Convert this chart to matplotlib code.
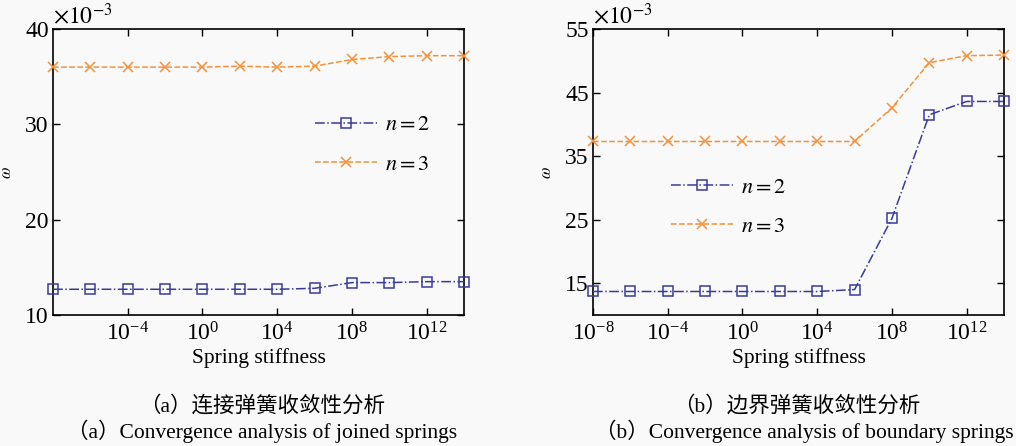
import numpy as np
import matplotlib
matplotlib.use("Agg")
import matplotlib.pyplot as plt

plt.rcParams['font.family'] = ['Liberation Serif', 'Noto Sans CJK SC']
plt.rcParams['mathtext.fontset'] = 'stix'

# stiffness values 10^-8 ... 10^14
stiffness = 10.0 ** np.arange(-8, 15, 2)

# (a) joined springs
joined_n2 = [12.7, 12.7, 12.7, 12.7, 12.7, 12.7, 12.7, 12.8, 13.4, 13.4, 13.5, 13.5]
joined_n3 = [36.0, 36.0, 36.0, 36.0, 36.0, 36.1, 36.0, 36.1, 36.8, 37.1, 37.2, 37.2]

# (b) boundary springs
boundary_n2 = [13.7, 13.7, 13.7, 13.7, 13.7, 13.7, 13.7, 14.0, 25.2, 41.5, 43.6, 43.6]
boundary_n3 = [37.3, 37.3, 37.3, 37.3, 37.3, 37.3, 37.3, 37.3, 42.6, 49.7, 50.8, 50.9]

blue = '#3a3a9c'
orange = '#f5913a'
bg = '#f9f9f9'

fig = plt.figure(figsize=(10.16, 4.46), dpi=100, facecolor=bg)
ax1 = fig.add_axes([0.0522, 0.2937, 0.4045, 0.6413], facecolor=bg)
ax2 = fig.add_axes([0.5837, 0.2937, 0.4045, 0.6413], facecolor=bg)


def draw(ax, n2, n3, ylim, yticks, xticks, leg_anchor):
    ax.plot(stiffness, n2, linestyle='-.', color=blue, lw=1.1, marker='s',
            markersize=7, markerfacecolor='none', markeredgecolor=blue,
            markeredgewidth=1.1, label=r'$n=2$', clip_on=False, zorder=3)
    ax.plot(stiffness, n3, linestyle='--', color=orange, lw=1.1, marker='x',
            markersize=7, markeredgewidth=1.1, label=r'$n=3$',
            clip_on=False, zorder=3)
    ax.set_xscale('log')
    ax.set_xlim(1e-8, 1e14)
    ax.set_ylim(*ylim)
    ax.set_yticks(yticks)
    ax.set_xticks(xticks)
    ax.minorticks_off()
    ax.tick_params(direction='in', top=True, right=True, length=5, width=1,
                   labelsize=17, pad=3)
    ax.tick_params(axis='x', pad=5)
    for s in ax.spines.values():
        s.set_linewidth(1.2)
    ax.set_xlabel('Spring stiffness', fontsize=15.5, labelpad=2)
    ax.set_ylabel(r'$\omega$', fontsize=12)
    ax.yaxis.set_label_coords(-0.092, 0.497)
    ax.text(0.0, 1.0, r'$\times10^{-3}$', transform=ax.transAxes,
            fontsize=17, ha='left', va='bottom')
    ax.legend(loc='upper left', bbox_to_anchor=leg_anchor, frameon=False,
              fontsize=16, handlelength=2.8, labelspacing=0.85,
              borderaxespad=0, borderpad=0, handletextpad=0.35)


draw(ax1, joined_n2, joined_n3, (10, 40), [10, 20, 30, 40],
     [1e-4, 1e0, 1e4, 1e8, 1e12], (0.638, 0.70))
draw(ax2, boundary_n2, boundary_n3, (10, 55), [15, 25, 35, 45, 55],
     [1e-8, 1e-4, 1e0, 1e4, 1e8, 1e12], (0.19, 0.482))

cap = dict(ha='center', va='center', fontsize=15.5)
fig.text(0.258, 0.09, '（a）连接弹簧收敛性分析', **cap)
fig.text(0.258, 0.032, '（a）Convergence analysis of joined springs', **cap)
fig.text(0.784, 0.09, '（b）边界弹簧收敛性分析', **cap)
fig.text(0.792, 0.032, '（b）Convergence analysis of boundary springs', **cap)

fig.savefig('out.png', dpi=100, facecolor=bg)
